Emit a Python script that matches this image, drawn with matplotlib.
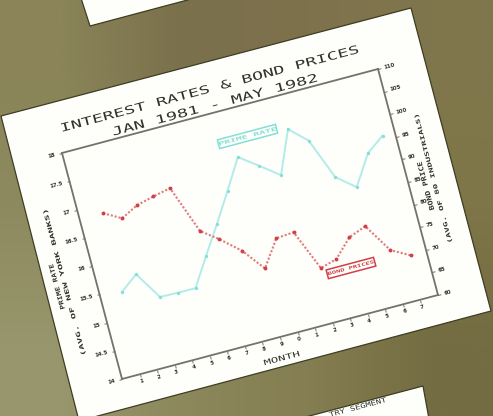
import numpy as np
import matplotlib
matplotlib.use("Agg")
import matplotlib.pyplot as plt
from matplotlib.patches import Polygon, Rectangle
from matplotlib.patheffects import AbstractPathEffect
from matplotlib.transforms import Affine2D
from mpl_toolkits.axisartist import floating_axes
from mpl_toolkits.axisartist.grid_finder import DictFormatter, FixedLocator

# ---- data ----
title_line1 = "INTEREST RATES & BOND PRICES"
title_line2 = "JAN 1981 - MAY 1982"
prime_months = [1.23, 2.23, 3.18, 4.2, 5.2, 6.2, 7.25, 8.28, 9.3, 10.32, 11.34, 12.36, 13.3, 14.2, 15.2, 16.27, 17.3]
prime_rate = [15.44, 15.67, 15.19, 15.18, 15.18, 15.66, 16.15, 16.65, 17.16, 16.92, 16.67, 17.40, 17.12, 16.40, 16.14, 16.65, 16.88]
bond_months = [1.34, 2.28, 3.26, 4.25, 5.25, 6.24, 7.14, 8.2, 9.17, 10.2, 11.2, 12.15, 13.1, 14.1, 15.1, 16.1, 17.1]
bond_price = [95.3, 93.2, 95.1, 96.0, 96.8, 86.3, 83.6, 79.9, 75.0, 80.6, 80.9, 72.0, 73.0, 76.8, 78.2, 71.9, 69.7]
month_ticks = list(range(1, 18))
month_labels = ["1", "2", "3", "4", "5", "6", "7", "8", "9", "0", "1", "2", "3", "4", "5", "6", "7"]
prime_ticks = [14, 14.5, 15, 15.5, 16, 16.5, 17, 17.5, 18]
prime_labels = ["14", "14.5", "15", "15.5", "16", "16.5", "17", "17.5", "18"]
bond_ticks = [60, 65, 70, 75, 80, 85, 90, 95, 100, 105, 110]
bond_labels = ["60", "65", "70", "75", "80", "85", "90", "95", "100", "105", "110"]

# ---- photo geometry (pixels, y up) ----
W, H = 493, 416
ANGLE = 14.9
ORIGIN = (122, H - 379)
XSPAN = (316, 84)
YSPAN = (-60, 226)
XMAX = 18

PAPER = "#fefefb"
EDGE = "#3d3d22"
AXIS = "#73736a"
INK = "#33332a"
TEAL = "#b2ece8"
TEAL_D = "#84e0d6"
RED = "#e07c7c"
RED_D = "#cf4048"


def make_tr(ymin, ymax):
    a, b = XSPAN[0] / XMAX, XSPAN[1] / XMAX
    c, d = YSPAN[0] / (ymax - ymin), YSPAN[1] / (ymax - ymin)
    e = ORIGIN[0] - c * ymin
    f = ORIGIN[1] - d * ymin
    return Affine2D.from_values(a, b, c, d, e, f)


class Squash(AbstractPathEffect):
    """Squeeze glyph height about the text anchor (wide plotter lettering)."""

    def __init__(self, x, y, angle, sy):
        super().__init__()
        self.post = (Affine2D().translate(-x, -(H - y)).rotate_deg(-angle)
                     .scale(1, sy).rotate_deg(angle).translate(x, H - y))

    def draw_path(self, renderer, gc, tpath, affine, rgbFace=None):
        renderer.draw_path(gc, tpath, affine + self.post, rgbFace)


fig = plt.figure(figsize=(W / 100, H / 100), dpi=100)
bg = fig.add_axes([0, 0, 1, 1])
bg.set_xlim(0, W)
bg.set_ylim(H, 0)
bg.axis("off")

tones = np.array([
    [[138, 132, 88], [122, 112, 76], [126, 114, 76], [128, 118, 76]],
    [[142, 138, 96], [128, 120, 82], [124, 116, 76], [126, 118, 72]],
    [[152, 150, 108], [140, 136, 92], [132, 126, 82], [116, 108, 66]],
]) / 255
bg.imshow(tones, extent=(0, W, H, 0), aspect="auto", interpolation="bilinear", zorder=0)
bg.set_xlim(0, W)
bg.set_ylim(H, 0)

papers = [
    [(80, -5), (90, 26), (195, -2)],
    [(1, 116), (411, 8), (491, 311), (79, 421)],
    [(423, 386), (298, 419), (429, 419)],
]
for corners in papers:
    bg.add_patch(Polygon(corners, closed=True, fc=PAPER, ec=EDGE, lw=0.9, zorder=1))


def label(x, y, s, size, angle=ANGLE, sy=1.0, color=INK, weight="normal", family="DejaVu Sans Mono", **kw):
    return bg.text(x, y, s, fontsize=size, rotation=angle, rotation_mode="anchor",
                   ha="center", va="center", color=color, fontweight=weight, family=family,
                   path_effects=[Squash(x, y, angle, sy)], zorder=6, **kw)


def legend_box(x, y, w, h, color):
    bg.add_patch(Rectangle((x - w / 2, y - h / 2), w, h, angle=-ANGLE, rotation_point="center",
                           fc="none", ec=color, lw=1.1, zorder=5))


label(211, 89, title_line1, 13.2, sy=0.62)
label(215.5, 105, title_line2, 13.4, sy=0.62)
label(282, 358.5, "MONTH", 8.9, sy=0.6)
label(57, 287, "PRIME RATE", 5.6, angle=ANGLE + 90, sy=0.8, weight="bold")
label(64.5, 282, "(AVG. OF NEW YORK BANKS)", 7.6, angle=ANGLE + 90, sy=0.55, weight="bold")
label(426, 186, "BOND PRICE", 6.0, angle=ANGLE + 90, sy=0.8, weight="bold")
label(433.5, 178, "(AVG. OF 80 INDUSTRIALS)", 6.7, angle=ANGLE + 90, sy=0.6, weight="bold")
label(358, 407.5, "TRY SEGMENT", 6.4, sy=0.75)

legend_box(247.5, 136.5, 60, 9, TEAL_D)
label(247.5, 136.5, "PRIME RATE", 7.2, color=TEAL_D, weight="bold", sy=0.5)
legend_box(351, 268, 49, 9, RED_D)
label(351, 268, "BOND PRICES", 5.2, color=RED_D, weight="bold", sy=0.6)


def floating(ymin, ymax, yticks, ylabels):
    tr = make_tr(ymin, ymax)
    helper = floating_axes.GridHelperCurveLinear(
        tr, extremes=(0, XMAX, ymin, ymax),
        grid_locator1=FixedLocator(month_ticks),
        tick_formatter1=DictFormatter(dict(zip(month_ticks, month_labels))),
        grid_locator2=FixedLocator(yticks),
        tick_formatter2=DictFormatter(dict(zip(yticks, ylabels))),
    )
    ax = fig.add_axes([0, 0, 1, 1], axes_class=floating_axes.FloatingAxes, grid_helper=helper)
    ax.set_xlim(0, W)
    ax.set_ylim(0, H)
    ax.patch.set_visible(False)
    return ax, ax.get_aux_axes(tr)


def style_axis(axis, show_labels=True, rot=0, pad=1.2):
    axis.set_visible(True)
    axis.line.set_color(AXIS)
    axis.line.set_linewidth(1.3)
    axis.major_ticks.set_tick_out(True)
    axis.major_ticks.set_ticksize(2.2)
    axis.major_ticks.set_color(AXIS)
    axis.major_ticks.set_markeredgewidth(0.7)
    axis.major_ticklabels.set_visible(show_labels)
    axis.major_ticklabels.set_fontsize(3.9)
    axis.major_ticklabels.set_fontweight("bold")
    axis.major_ticklabels.set_color(INK)
    axis.major_ticklabels.set_pad(pad)
    axis.major_ticklabels.set_rotation(rot)


ax_prime, aux_prime = floating(14, 18, prime_ticks, prime_labels)
style_axis(ax_prime.axis["left"], True, 90, 2.5)
style_axis(ax_prime.axis["bottom"], True, 0)
ax_prime.axis["top"].line.set_color(AXIS)
ax_prime.axis["top"].line.set_linewidth(1.3)
ax_prime.axis["top"].major_ticks.set_visible(False)
ax_prime.axis["top"].major_ticklabels.set_visible(False)
ax_prime.axis["right"].set_visible(False)

ax_bond, aux_bond = floating(60, 110, bond_ticks, bond_labels)
for name in ["left", "bottom", "top"]:
    ax_bond.axis[name].set_visible(False)
style_axis(ax_bond.axis["right"], True, -90, 2.5)

aux_prime.plot(prime_months, prime_rate, color=TEAL, lw=1.4, marker="o", ms=2.4,
               mfc=TEAL_D, mec="none", solid_joinstyle="miter", zorder=3)
aux_bond.plot(bond_months, bond_price, color=RED, lw=1.5, ls=(0, (1.0, 0.9)), marker="o", ms=2.8,
              mfc=RED_D, mec="none", zorder=4)

fig.savefig("out.png", dpi=100)
